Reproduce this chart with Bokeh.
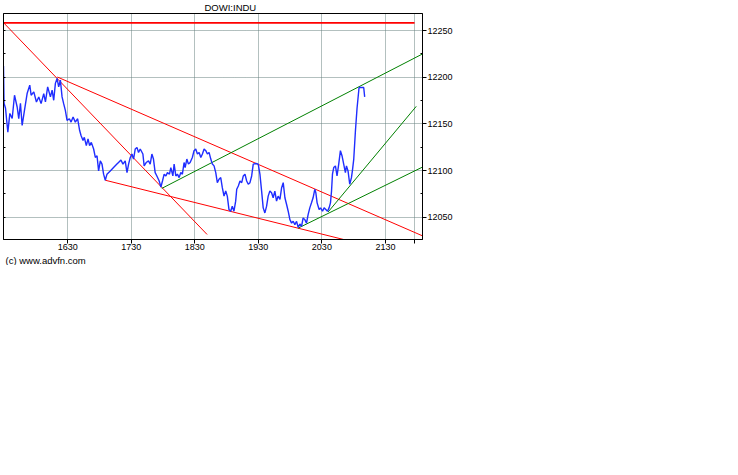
from bokeh.plotting import figure
from bokeh.models import (Range1d, LinearAxis, FixedTicker, Title)
from bokeh.embed import file_html
from bokeh.resources import INLINE

# ---- data -------------------------------------------------------------
# time in minutes since midnight (UK time), price of DOWI:INDU
time_min = [929.4, 929.9, 931.3, 933.5, 935.4, 937.6, 939.8, 942.3, 943.8, 945.4,
            947.0, 949.2, 951.7, 954.2, 955.5, 958.0, 960.5, 962.7, 964.9, 967.4,
            969.0, 971.1, 973.7, 975.3, 976.8, 978.4, 980.0, 981.5, 983.1, 984.7,
            986.2, 987.8, 989.4, 991.6, 993.2, 995.1, 997.2, 999.4, 1001.3, 1002.6,
            1004.5, 1005.7, 1007.6, 1009.2, 1010.7, 1012.3, 1014.5, 1016.1, 1017.7, 1019.2,
            1020.8, 1022.4, 1023.9, 1025.5, 1027.1, 1030.2, 1033.3, 1036.5, 1038.0, 1040.3,
            1042.2, 1044.3, 1046.0, 1047.5, 1049.1, 1050.7, 1052.2, 1053.8, 1055.4, 1056.9,
            1058.5, 1061.0, 1062.2, 1064.1, 1066.3, 1067.9, 1069.5, 1071.0, 1072.6, 1074.2,
            1076.4, 1078.0, 1079.5, 1081.1, 1082.7, 1084.2, 1086.1, 1087.4, 1089.3, 1090.5,
            1092.1, 1093.6, 1095.2, 1096.8, 1098.3, 1099.9, 1100.9, 1102.5, 1104.0, 1105.6,
            1107.7, 1109.3, 1110.9, 1112.5, 1114.1, 1115.7, 1117.2, 1118.8, 1120.4, 1121.9,
            1123.5, 1125.1, 1126.6, 1128.2, 1129.8, 1131.3, 1132.9, 1134.5, 1136.0, 1137.6,
            1139.2, 1140.7, 1142.3, 1143.9, 1145.4, 1147.0, 1148.6, 1149.6, 1151.1, 1152.7,
            1154.3, 1155.8, 1157.4, 1159.0, 1160.5, 1162.1, 1163.7, 1165.2, 1167.8, 1169.9,
            1171.5, 1173.1, 1174.6, 1176.2, 1177.8, 1179.3, 1180.9, 1182.5, 1184.0, 1185.6,
            1187.2, 1188.7, 1190.4, 1192.0, 1193.5, 1195.1, 1196.7, 1198.2, 1199.8, 1201.4,
            1202.9, 1204.5, 1206.1, 1207.6, 1209.2, 1210.8, 1212.3, 1213.9, 1215.5, 1217.0,
            1218.6, 1220.2, 1221.7, 1223.3, 1224.3, 1225.5, 1227.4, 1228.7, 1230.6, 1232.1,
            1233.7, 1235.3, 1236.8, 1238.1, 1239.1, 1240.0, 1241.2, 1242.8, 1244.3, 1245.9,
            1247.5, 1249.0, 1250.6, 1252.2, 1253.2, 1254.7, 1256.3, 1257.9, 1258.8, 1260.1,
            1261.7, 1263.2, 1265.1, 1267.6, 1269.5, 1270.4]
price = [12212.2, 12172.2, 12166.8, 12141.1, 12161.3, 12155.9, 12180.8, 12168.2, 12155.6, 12172.2,
         12148.4, 12164.6, 12182.6, 12191.6, 12180.8, 12184.4, 12173.6, 12179.0, 12171.8, 12182.6,
         12173.6, 12189.8, 12179.0, 12186.2, 12175.4, 12193.5, 12198.9, 12189.8, 12197.0, 12179.0,
         12171.8, 12164.6, 12153.8, 12155.6, 12152.0, 12157.4, 12152.0, 12155.6, 12143.0, 12137.6,
         12132.2, 12135.7, 12126.8, 12134.0, 12126.8, 12130.3, 12123.2, 12114.1, 12115.9, 12099.7,
         12110.5, 12107.0, 12096.2, 12089.7, 12096.2, 12099.7, 12103.3, 12107.0, 12108.7, 12111.3,
         12107.0, 12110.5, 12097.9, 12107.0, 12114.1, 12117.8, 12112.4, 12123.2, 12124.9, 12119.5,
         12123.2, 12117.8, 12105.1, 12108.7, 12110.5, 12107.0, 12117.8, 12112.4, 12097.9, 12094.3,
         12088.9, 12082.4, 12088.9, 12096.2, 12094.3, 12097.9, 12096.2, 12103.3, 12094.3, 12107.0,
         12094.3, 12096.2, 12092.5, 12097.9, 12096.2, 12108.7, 12103.3, 12112.4, 12107.0, 12108.7,
         12114.1, 12121.4, 12123.2, 12117.8, 12119.5, 12114.1, 12117.8, 12123.2, 12121.4, 12117.8,
         12119.5, 12112.4, 12107.0, 12105.1, 12097.9, 12087.1, 12090.8, 12092.5, 12081.7, 12072.7,
         12078.1, 12072.7, 12058.3, 12056.5, 12061.9, 12056.5, 12067.3, 12080.0, 12083.5, 12088.9,
         12087.1, 12094.3, 12096.2, 12088.9, 12085.4, 12087.1, 12094.3, 12107.0, 12107.6, 12107.0,
         12096.2, 12078.1, 12060.1, 12054.7, 12061.9, 12072.7, 12078.1, 12076.3, 12070.9, 12078.1,
         12067.3, 12072.7, 12069.1, 12081.7, 12087.1, 12070.9, 12063.7, 12056.5, 12047.5, 12043.8,
         12045.7, 12042.1, 12045.7, 12039.2, 12042.8, 12040.3, 12049.3, 12047.5, 12043.8, 12052.9,
         12060.1, 12065.5, 12070.9, 12080.0, 12076.3, 12065.5, 12058.3, 12060.1, 12056.5, 12060.1,
         12058.3, 12056.5, 12060.1, 12065.5, 12078.1, 12096.2, 12103.3, 12105.1, 12094.3, 12107.0,
         12121.4, 12116.0, 12107.0, 12097.9, 12105.1, 12099.7, 12085.4, 12092.5, 12099.7, 12112.4,
         12143.0, 12166.8, 12189.1, 12189.1, 12189.1, 12179.0]

# trend lines: start time, start price, end time, end price
red_x0 = [929.4, 980.3, 1025.5]
red_y0 = [12258.6, 12200.3, 12089.7]
red_x1 = [1121.6, 1330.7, 1254.4]
red_y1 = [12031.6, 12027.3, 12025.1]

green_x0 = [1078.9, 1207.6, 1235.9]
green_y0 = [12081.0, 12038.4, 12055.7]
green_x1 = [1325.1, 1330.7, 1319.1]
green_y1 = [12225.1, 12107.0, 12168.9]

level_x = [929.4, 1317.5]
level_y = [12258.3, 12258.3]

x_ticks = [990, 1050, 1110, 1170, 1230, 1290, 1317]
x_labels = ["1630", "1730", "1830", "1930", "2030", "2130", ""]
y_ticks = [12050, 12100, 12150, 12200, 12250]
y_minor = [12075, 12125, 12175, 12225]

# ---- figure -----------------------------------------------------------
p = figure(width=455, height=266, output_backend="svg", toolbar_location=None,
           x_range=Range1d(929.4, 1325), y_range=Range1d(12026.2, 12268.4),
           x_axis_location="below", y_axis_location="right",
           min_border_left=3, min_border_right=0, min_border_top=0, min_border_bottom=0,
           background_fill_color="white", border_fill_color="white")
p.margin = (-1, 0, 0, 0)
p.outline_line_color = "black"
p.outline_line_width = 1

p.title.text = "DOWI:INDU"
p.title.align = "left"
p.title.offset = 201
p.title.standoff = 1
p.title.text_font = "Liberation Sans"
p.title.text_font_size = "9.5px"
p.title.text_font_style = "normal"
p.title.text_color = "black"

# x axis
xa = p.xaxis[0]
xa.ticker = FixedTicker(ticks=x_ticks)
xa.major_label_overrides = {t: l for t, l in zip(x_ticks, x_labels)}
xa.major_tick_out = 4
xa.major_tick_in = 0
xa.minor_tick_out = 0
xa.minor_tick_in = 0
xa.major_label_standoff = 0
xa.major_label_text_font = "Liberation Sans"
xa.major_label_text_font_size = "9px"
xa.major_label_text_color = "black"
xa.axis_line_color = "black"
xa.major_tick_line_color = "black"

# right y axis
ya = p.yaxis[0]
ya.ticker = FixedTicker(ticks=y_ticks, minor_ticks=y_minor)
ya.major_tick_out = 4
ya.major_tick_in = 0
ya.minor_tick_out = 0
ya.minor_tick_in = 2
ya.major_label_standoff = 1
ya.major_label_text_font = "Liberation Sans"
ya.major_label_text_font_size = "9px"
ya.major_label_text_color = "black"
ya.axis_line_color = "black"

# left y axis (ticks only, no labels)
left_ticks = sorted(y_ticks + y_minor)
la = LinearAxis(ticker=FixedTicker(ticks=left_ticks),
                major_label_overrides={t: "" for t in left_ticks},
                major_tick_in=2, major_tick_out=0, minor_tick_in=0, minor_tick_out=0,
                major_label_text_font_size="9px", major_label_standoff=0,
                axis_line_color="black", major_tick_line_color="black")
p.add_layout(la, "left")

# grid
p.xgrid.ticker = FixedTicker(ticks=x_ticks)
p.ygrid.ticker = FixedTicker(ticks=y_ticks)
for g in (p.xgrid[0], p.ygrid[0]):
    g.grid_line_color = "#66807f"
    g.grid_line_dash = "1 1"
    g.grid_line_width = 1

# copyright note
p.add_layout(Title(text="(c) www.advfn.com", align="left", offset=2, standoff=0,
                   text_font="Liberation Sans", text_font_size="9.5px",
                   text_font_style="normal", text_color="black"), "below")

# marks
p.line(level_x, level_y, line_color="#ff0000", line_width=1.6)
p.segment(x0=red_x0, y0=red_y0, x1=red_x1, y1=red_y1, line_color="#ff0000", line_width=1)
p.segment(x0=green_x0, y0=green_y0, x1=green_x1, y1=green_y1, line_color="#008000", line_width=1)
p.line(time_min, price, line_color="#1f2dff", line_width=1.4)

open("out.html", "w").write(file_html(p, INLINE))
